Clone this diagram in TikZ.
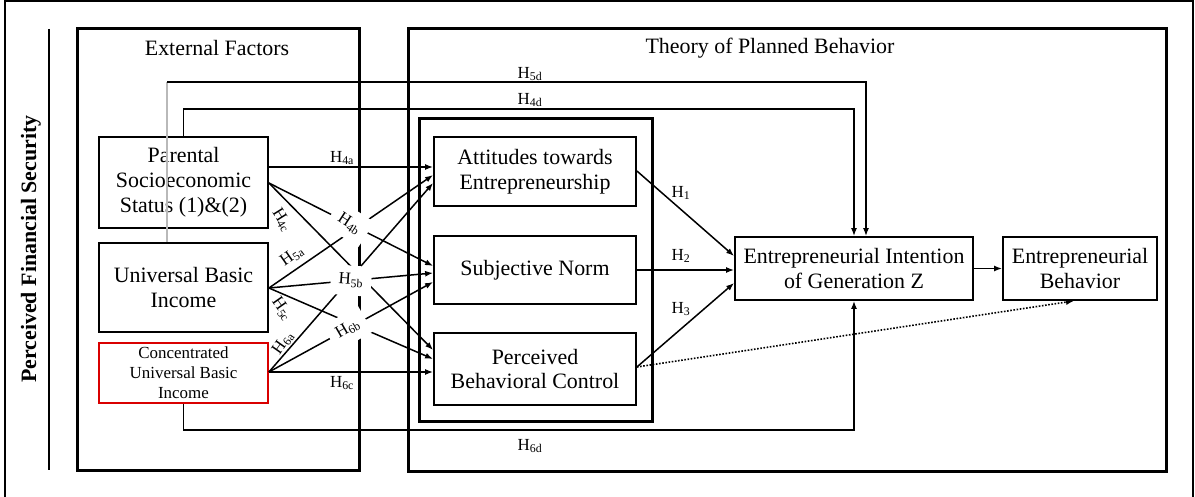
\documentclass[tikz,border=0pt]{standalone}
\usepackage{fontspec}
\setmainfont{Liberation Serif}
\usetikzlibrary{arrows.meta,calc}
\begin{document}
\begin{tikzpicture}[x=1bp,y=-1bp,
  frame/.style={draw, line width=3bp},
  box/.style={draw, line width=1.8bp, inner sep=0pt, align=center,
    font=\fontsize{22}{25}\selectfont},
  smallbox/.style={box, draw=red!85!black, font=\fontsize{17}{20}\selectfont},
  title/.style={font=\fontsize{22}{25}\selectfont},
  link/.style={line width=1.5bp, -{Latex[length=8bp,width=6bp]}},
  hyp/.style={font=\fontsize{17}{19}\selectfont, inner sep=1bp},
  cut/.style={hyp, fill=white, inner xsep=8bp, inner ysep=8bp}]
\useasboundingbox (0,0) rectangle (1195,497);
\clip (0,0) rectangle (1195,497);

% outer frame and side caption
\draw[line width=2.4bp] (5,1) rectangle (1193,530);
\draw[line width=1.8bp] (49,29) -- (49,470);
\node[rotate=90, font=\fontsize{22}{25}\selectfont\bfseries] (pfs) at (31,249) {Perceived Financial Security};

% group frames
\draw[frame] (77,29) rectangle (359,470);
\draw[frame] (408,29) rectangle (1166,471);
\draw[frame] (419,119) rectangle (652,421);
\node[title] (ext) at (217,48) {External Factors};
\node[title] (tpb) at (770,48) {Theory of Planned Behavior};

% constructs
\node[box, minimum width=169bp, minimum height=91bp] (P) at (183.5,182.5) {Parental\\Socioeconomic\\Status (1)\&(2)};
\node[box, minimum width=169bp, minimum height=89bp] (U) at (183.5,287.5) {Universal Basic\\Income};
\node[smallbox, minimum width=169bp, minimum height=60bp] (C) at (183.5,373) {Concentrated\\Universal Basic\\Income};
\node[box, minimum width=202bp, minimum height=69bp] (Att) at (535,171.5) {Attitudes towards\\Entrepreneurship};
\node[box, minimum width=202bp, minimum height=68bp] (SN) at (535,270) {Subjective Norm};
\node[box, minimum width=202bp, minimum height=72bp] (PBC) at (535,369) {Perceived\\Behavioral Control};
\node[box, minimum width=238bp, minimum height=63bp] (EI) at (854,268.5) {Entrepreneurial Intention\\of Generation Z};
\node[box, minimum width=154bp, minimum height=63bp] (EB) at (1080,268.5) {Entrepreneurial\\Behavior};

% external factors -> TPB antecedents
\draw[link] (P.east |- 0,167) -- (Att.west |- 0,167);
\draw[link] (P.east |- 0,183) -- coordinate[pos=0.49] (l4b) (SN.west |- 0,266);
\draw[link] (P.east |- 0,183) -- (PBC.west |- 0,350);
\draw[link] (U.east |- 0,288) -- (Att.west |- 0,175);
\draw[link] (U.east |- 0,288) -- coordinate[pos=0.5] (l5b) (SN.west |- 0,273);
\draw[link] (U.east |- 0,288) -- (PBC.west |- 0,359);
\draw[link] (C.east |- 0,372) -- (Att.west |- 0,183);
\draw[link] (C.east |- 0,372) -- coordinate[pos=0.48] (l6b) (SN.west |- 0,282);
\draw[link] (C.east |- 0,372) -- (PBC.west |- 0,372);

% direct paths to intention
\coordinate (h5dcorner) at (167,82);
\coordinate (h4dcorner) at (183.5,109);
\coordinate (h6dcorner) at (183.5,430);
\draw[gray!55, line width=1.3bp] (U.north -| h5dcorner) -- (h5dcorner);
\draw[link] (h5dcorner) -| ($(EI.north)+(12,0)$);
\draw[link] (P.north) -- (h4dcorner) -| (EI.north);
\draw[link] (C.south) -- (h6dcorner) -| (EI.south);

% TPB paths
\draw[link] (Att.east |- 0,171) -- (EI.west |- 0,256);
\draw[link] (SN.east) -- (EI.west |- SN.east);
\draw[link] (PBC.east |- 0,367) -- (EI.west |- 0,283);
\draw[link] (EI) -- (EB);
\draw[line width=1.6bp, dash pattern=on 1.6bp off 1.6bp, -{Latex[length=8bp,width=6bp]}]
  (PBC.east |- 0,367) -- (EB.south -| 1074,0);

% hypothesis labels
\node[hyp, anchor=south] at (342,166) {H\textsubscript{4a}};
\node[hyp, rotate=-58] at (282,220) {H\textsubscript{4c}};
\node[hyp, rotate=35] at (292,256) {H\textsubscript{5a}};
\node[hyp, rotate=-55] at (282,309) {H\textsubscript{5c}};
\node[hyp, rotate=55] at (283,343) {H\textsubscript{6a}};
\node[hyp, anchor=north] at (342,375) {H\textsubscript{6c}};
\node[cut, rotate=-33] at (l4b) {H\textsubscript{4b}};
\node[cut, rotate=-4] at (l5b) {H\textsubscript{5b}};
\node[cut, rotate=30] at (l6b) {H\textsubscript{6b}};
\node[hyp] at (530,74) {H\textsubscript{5d}};
\node[hyp] at (530,100) {H\textsubscript{4d}};
\node[hyp] at (530,446) {H\textsubscript{6d}};
\node[hyp] at (681,193) {H\textsubscript{1}};
\node[hyp] at (681,256) {H\textsubscript{2}};
\node[hyp] at (681,309) {H\textsubscript{3}};
\end{tikzpicture}
\end{document}
